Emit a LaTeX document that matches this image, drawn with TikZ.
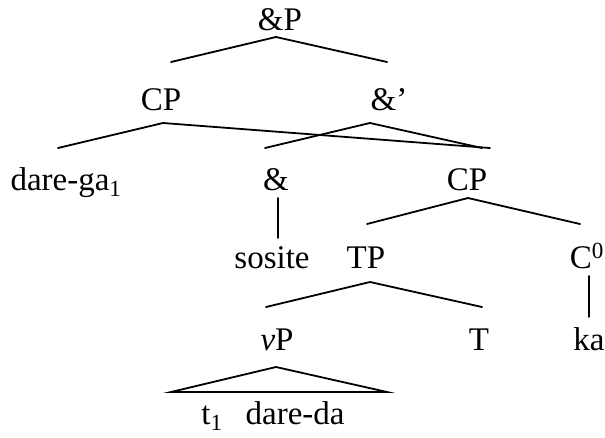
\documentclass[tikz,border=0pt]{standalone}
\usepackage{fontspec}
\setmainfont{Liberation Serif}
\usetikzlibrary{calc}
\tikzset{
	lbl/.style={anchor=base, inner sep=0pt, font=\fontsize{33}{38}\selectfont},
	branch/.style={line width=1.8pt, line cap=round}
}

\begin{document}
\begin{tikzpicture}[x=1pt, y=-1pt]
		%%%%% START %%%%%
		\useasboundingbox (0, 0) rectangle (605, 437);
		
		% labels
		\node[lbl] (andP) at (280, 30) {\&P};
		
		\node[lbl] (cpA) at (161, 110) {CP};
		\node[lbl] (andBar) at (389, 110) {\&’};
		
		\node[lbl] (darega) at (66, 190) {dare-ga\textsubscript{1}};
		\node[lbl] (amp) at (276, 190) {\&};
		\node[lbl] (cpB) at (467, 190) {CP};
		
		\node[lbl] (sosite) at (272, 268) {sosite};
		\node[lbl] (tp) at (366, 268) {TP};
		\node[lbl] (cz) at (587, 268) {C\textsuperscript{0}};
		
		\node[lbl] (vp) at (277, 350) {\textit{v}P};
		\node[lbl] (t) at (479, 350) {T};
		\node[lbl] (ka) at (589, 350) {ka};
		
		\node[lbl] (leaves) at (273, 424) {t\textsubscript{1}\hspace{0.7em}dare-da};
		
		% branches
		\draw[branch] ([xshift=10pt, yshift=48pt]cpA.base) -- ([xshift=-4pt, yshift=-7pt]andP.base) -- ([xshift=-2pt, yshift=48pt]andBar.base);
		
		\draw[branch] ([xshift=-8pt, yshift=42pt]darega.base) -- ([xshift=2pt, yshift=-13pt]cpA.base) -- ([xshift=23pt, yshift=42pt]cpB.base);
		\draw[branch] ([xshift=-11pt, yshift=42pt]amp.base) -- ([xshift=-19pt, yshift=-13pt]andBar.base) -- ([xshift=15pt, yshift=42pt]cpB.base);
		
		\draw[branch] ([xshift=2pt, yshift=-8pt]amp.base) -- ([xshift=6pt, yshift=30pt]sosite.base);
		\draw[branch] ([xshift=1pt, yshift=44pt]tp.base) -- ([xshift=1pt, yshift=-8pt]cpB.base) -- ([xshift=-7pt, yshift=44pt]cz.base);
		
		\draw[branch] ([xshift=2pt, yshift=-8pt]cz.base) -- ([xshift=0pt, yshift=33pt]ka.base);
		\draw[branch] ([xshift=-11pt, yshift=43pt]vp.base) -- ([xshift=4pt, yshift=-14pt]tp.base) -- ([xshift=3pt, yshift=43pt]t.base);
		
		\draw[branch] ([xshift=-102pt, yshift=32pt]leaves.base) -- ([xshift=-1pt, yshift=-17pt]vp.base) -- ([xshift=114pt, yshift=32pt]leaves.base) -- cycle;
		
		%%%%% END %%%%%
	\end{tikzpicture}
\end{document}
